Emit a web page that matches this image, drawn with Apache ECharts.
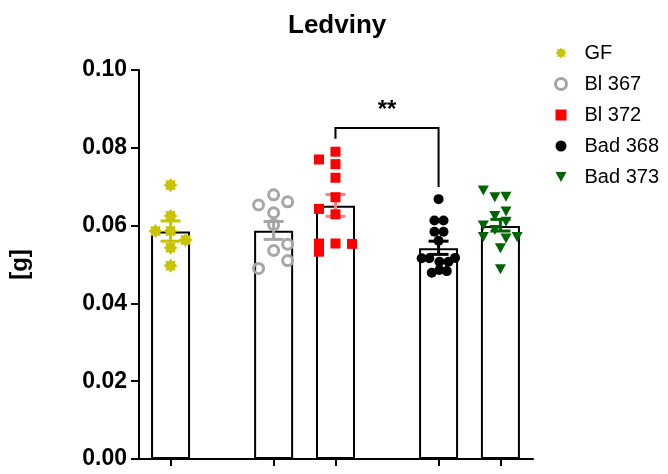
<!DOCTYPE html>
<html>
<head>
<meta charset="utf-8">
<script src="https://cdn.jsdelivr.net/npm/echarts@6/dist/echarts.min.js"></script>
<style>html,body{margin:0;padding:0;background:#fff}#c{width:668px;height:474px}</style>
</head>
<body>
<div id="c"></div>
<script>
// ---- data ----
var groupNames = ['GF', 'Bl 367', 'Bl 372', 'Bad 368', 'Bad 373'];
var groupPositions = [0, 5, 8, 13, 16];
var barMeans = [0.0585, 0.0587, 0.0651, 0.0542, 0.0599];
var barSem = [0.0026, 0.0023, 0.0028, 0.0017, 0.0015];
var errCenters = [0.0586, 0.05875, 0.0652, 0.0543, 0.0601];

var gfValues = [0.0704, 0.0625, 0.0586, 0.0586, 0.0563, 0.0543, 0.0497];
var gfJitter = [0, 0, -0.73, 0, 0.73, 0, 0];
var bl367Values = [0.0679, 0.0653, 0.0661, 0.0633, 0.0602, 0.0552, 0.0536, 0.0510, 0.0490];
var bl367Jitter = [0, -0.73, 0.68, 0, 0, 0.68, 0, 0.68, -0.73];
var bl372Values = [0.0790, 0.0770, 0.0758, 0.0723, 0.0673, 0.0643, 0.0629, 0.0554, 0.0533, 0.0554, 0.0553];
var bl372Jitter = [0, -0.8, 0, 0, 0, -0.8, 0, -0.8, -0.8, 0, 0.8];
var bad368Values = [0.0668, 0.0613, 0.0613, 0.0584, 0.0584, 0.0561, 0.0516, 0.0516, 0.0517, 0.0507, 0.0507, 0.0486, 0.0479, 0.0483];
var bad368Jitter = [0, -0.2, 0.24, -0.2, 0.24, 0, -0.82, -0.45, 0.8, 0.04, 0.48, 0.04, -0.33, 0.4];
var bad373Values = [0.0690, 0.0673, 0.0674, 0.0636, 0.0625, 0.0610, 0.0600, 0.0589, 0.0571, 0.0567, 0.0571, 0.0542, 0.0488];
var bad373Jitter = [-0.83, -0.27, 0.27, 0.27, -0.27, 0.27, -0.83, -0.27, -0.83, 0.27, 0.81, 0, 0];

var yTicks = [0, 0.02, 0.04, 0.06, 0.08, 0.10];
var sigBracket = { from: 2, to: 3, top: 0.0851, leftEnd: 0.0823, rightEnd: 0.0699, label: '**' };

// ---- styles ----
var FONT = 'Liberation Sans, Arial, sans-serif';
var starPath = 'path://M20,10 L16.47,12.68 L17.07,17.07 L12.68,16.47 L10,20 L7.32,16.47 L2.93,17.07 L3.53,12.68 L0,10 L3.53,7.32 L2.93,2.93 L7.32,3.53 L10,0 L12.68,3.53 L17.07,2.93 L16.47,7.32 Z';
var triDownPath = 'path://M0,0 L10,0 L5,9 Z';
var pointColors = ['#c8c400', '#a6a6a6', '#ff0000', '#000000', '#006400'];
var errColors = ['#c8c400', '#a6a6a6', '#ff8080', '#000000', '#006400'];

var pointSets = [
  [gfValues, gfJitter], [bl367Values, bl367Jitter], [bl372Values, bl372Jitter],
  [bad368Values, bad368Jitter], [bad373Values, bad373Jitter]
];
var symbolDefs = [
  { symbol: starPath, symbolSize: 14, itemStyle: { color: pointColors[0], opacity: 1 } },
  { symbol: 'circle', symbolSize: 10, itemStyle: { color: 'rgba(0,0,0,0)', borderColor: pointColors[1], borderWidth: 3, opacity: 1 } },
  { symbol: 'rect', symbolSize: 10, itemStyle: { color: pointColors[2], opacity: 1 } },
  { symbol: 'circle', symbolSize: 10, itemStyle: { color: pointColors[3], opacity: 1 } },
  { symbol: triDownPath, symbolSize: [11, 10], itemStyle: { color: pointColors[4], opacity: 1 } }
];

var scatterSeries = pointSets.map(function (ps, g) {
  var d = ps[0].map(function (v, i) { return [groupPositions[g] + ps[1][i], v]; });
  var s = { type: 'scatter', name: groupNames[g], data: d, z: 5, silent: true };
  for (var k in symbolDefs[g]) s[k] = symbolDefs[g][k];
  return s;
});

var legendItems = groupNames.map(function (n, g) {
  if (g === 1) {
    return { name: n, icon: 'circle', itemStyle: { color: 'rgba(0,0,0,0)', borderColor: pointColors[1], borderWidth: 3 } };
  }
  return { name: n };
});

var barData = barMeans.map(function (m, i) { return [groupPositions[i], m]; });
var errData = errCenters.map(function (c, i) { return [groupPositions[i], c - barSem[i], c + barSem[i], i]; });

var chart = echarts.init(document.getElementById('c'));
chart.setOption({
  animation: false,
  backgroundColor: '#fff',
  title: {
    text: 'Ledviny', left: 283, top: 8,
    textStyle: { fontFamily: FONT, fontSize: 26, fontWeight: 'bold', color: '#000' }
  },
  legend: {
    orient: 'vertical', left: 549, top: 38,
    itemWidth: 11, itemHeight: 11, itemGap: 11,
    data: legendItems,
    textStyle: { fontFamily: FONT, fontSize: 20, color: '#000', lineHeight: 20, padding: [0, 0, 0, 13] }
  },
  grid: { left: 139, right: 135, top: 70, bottom: 15 },
  xAxis: {
    type: 'value', min: -1.53, max: 17.58,
    axisLine: { show: true, onZero: false, lineStyle: { color: '#000', width: 2 } },
    axisTick: { show: true, customValues: groupPositions, length: 7, lineStyle: { color: '#000', width: 2 } },
    axisLabel: { show: false },
    splitLine: { show: false }
  },
  yAxis: {
    type: 'value', min: 0, max: 0.1, interval: 0.02,
    name: '[g]', nameLocation: 'middle', nameGap: 107,
    nameTextStyle: { fontFamily: FONT, fontSize: 24, fontWeight: 'bold', color: '#000' },
    axisLine: { show: true, onZero: false, lineStyle: { color: '#000', width: 2 } },
    axisTick: { show: true, length: 8, lineStyle: { color: '#000', width: 2 } },
    axisLabel: {
      margin: 12, fontFamily: FONT, fontSize: 23, fontWeight: 'bold', color: '#000',
      formatter: function (v) { return v.toFixed(2); }
    },
    splitLine: { show: false }
  },
  series: [
    {
      type: 'bar', data: barData, barWidth: 39, z: 2, silent: true,
      itemStyle: { color: '#fff', borderColor: '#000', borderWidth: 2 }
    },
    {
      type: 'custom', data: errData, z: 4, silent: true,
      renderItem: function (params, api) {
        var x = api.value(0);
        var lo = api.coord([x, api.value(1)]);
        var hi = api.coord([x, api.value(2)]);
        var col = errColors[api.value(3)];
        var hw = 10;
        var st = { stroke: col, lineWidth: 3 };
        return {
          type: 'group', children: [
            { type: 'line', shape: { x1: lo[0], y1: lo[1], x2: hi[0], y2: hi[1] }, style: st },
            { type: 'line', shape: { x1: lo[0] - hw, y1: lo[1], x2: lo[0] + hw, y2: lo[1] }, style: st },
            { type: 'line', shape: { x1: hi[0] - hw, y1: hi[1], x2: hi[0] + hw, y2: hi[1] }, style: st }
          ]
        };
      }
    },
    {
      type: 'custom', data: [[groupPositions[sigBracket.from], groupPositions[sigBracket.to], sigBracket.top, sigBracket.leftEnd, sigBracket.rightEnd]],
      z: 6, silent: true,
      renderItem: function (params, api) {
        var a = api.coord([api.value(0), api.value(3)]);
        var b = api.coord([api.value(0), api.value(2)]);
        var c = api.coord([api.value(1), api.value(2)]);
        var d = api.coord([api.value(1), api.value(4)]);
        return {
          type: 'group', children: [
            { type: 'polyline', shape: { points: [a, b, c, d] }, style: { stroke: '#000', lineWidth: 2, fill: null } },
            { type: 'text', x: (b[0] + c[0]) / 2, y: b[1] - 6,
              style: { text: sigBracket.label, fontFamily: FONT, fontSize: 24, fontWeight: 'bold', fill: '#000', align: 'center', verticalAlign: 'bottom' } }
          ]
        };
      }
    }
  ].concat(scatterSeries)
});
</script>
</body>
</html>
